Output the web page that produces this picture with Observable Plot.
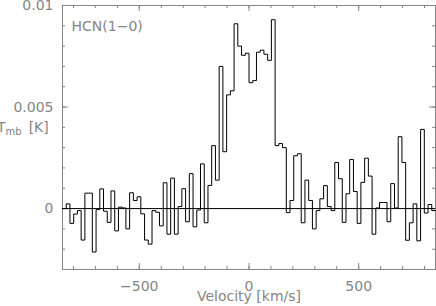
<!DOCTYPE html>
<html><head><meta charset="utf-8">
<script src="https://cdn.jsdelivr.net/npm/d3@7"></script>
<script src="https://cdn.jsdelivr.net/npm/@observablehq/plot@0.6"></script>
<style>
html,body{margin:0;padding:0;background:#fff;}
#chart svg{display:block;}
</style></head><body><div id="chart"></div>
<script>
// ---- data ----
const lineName = "HCN(1−0)";
const xLabel = "Velocity [km/s]";
const yLabelMain = "T", yLabelSub = "mb", yLabelUnit = "[K]";
const channelStart = -850;   // km/s, left edge of first channel
const channelWidth = 17;     // km/s per channel
const tmb = [
  0.00000, 0.00023, -0.00073, -0.00027, -0.00010, -0.00155, 0.00076, 0.00076, -0.00214, -0.00005,
  0.00097, -0.00013, -0.00068, 0.00087, -0.00110, 0.00007, 0.00003, -0.00100, 0.00078, 0.00040,
  0.00058, -0.00026, -0.00155, -0.00175, -0.00010, -0.00018, -0.00085, 0.00127, -0.00126, 0.00150,
  -0.00126, 0.00010, 0.00098, -0.00065, 0.00172, -0.00090, -0.00007, 0.00220, -0.00070, 0.00114,
  0.00310, 0.00140, 0.00700, 0.00280, 0.00560, 0.00580, 0.00910, 0.00800, 0.00755, 0.00765,
  0.00620, 0.00630, 0.00770, 0.00780, 0.00760, 0.00730, 0.00930, 0.00310, 0.00320, 0.00300,
  -0.00020, 0.00040, 0.00260, 0.00270, -0.00070, 0.00140, 0.00040, -0.00100, -0.00010, 0.00048,
  0.00113, 0.00010, -0.00010, 0.00227, 0.00147, -0.00068, 0.00073, 0.00242, 0.00084, -0.00073,
  0.00129, 0.00248, 0.00160, -0.00126, 0.00003, 0.00030, 0.00030, -0.00065, 0.00123, 0.00003,
  0.00354, 0.00227, -0.00156, -0.00070, 0.00023, -0.00159, 0.00390, -0.00022, 0.00020, -0.00010
];
const xMajorTicks = [-500, 0, 500];
const xMinorTicks = [-800, -700, -600, -500, -400, -300, -200, -100, 0, 100, 200, 300, 400, 500, 600, 700, 800];
const yMajorTicks = [0, 0.005, 0.01];
const yMinorTicks = [-0.003, -0.002, -0.001, 0, 0.001, 0.002, 0.003, 0.004, 0.005, 0.006, 0.007, 0.008, 0.009, 0.01];

// ---- build step table (left edge of each channel + closing edge) ----
const spectrum = tmb.map((t, i) => ({v: channelStart + channelWidth * i, t}));
spectrum.push({v: channelStart + channelWidth * tmb.length, t: tmb[tmb.length - 1]});

const W = 436, H = 306;
const mL = 62, mR = 1, mT = 5, mB = 37;
const innerW = W - mL - mR, innerH = H - mT - mB;
const grey = "#858585";
const font = "DejaVu Sans";
const fmtX = d => d < 0 ? "−" + Math.abs(d) : String(d);

const plot = Plot.plot({
  width: W, height: H,
  marginLeft: mL, marginRight: mR, marginTop: mT, marginBottom: mB,
  style: {fontFamily: font, fontSize: "14px", color: grey, background: "#fff"},
  x: {domain: [-850, 850], label: null},
  y: {domain: [-0.003, 0.01], label: null},
  marks: [
    // inward ticks: bottom & top
    Plot.tickX(xMinorTicks, {x: d => d, stroke: grey, insetTop: innerH - 3}),
    Plot.tickX(xMinorTicks, {x: d => d, stroke: grey, insetBottom: innerH - 3}),
    Plot.tickX(xMajorTicks, {x: d => d, stroke: grey, insetTop: innerH - 6}),
    Plot.tickX(xMajorTicks, {x: d => d, stroke: grey, insetBottom: innerH - 6}),
    // inward ticks: left & right
    Plot.tickY(yMinorTicks, {y: d => d, stroke: grey, insetRight: innerW - 3}),
    Plot.tickY(yMinorTicks, {y: d => d, stroke: grey, insetLeft: innerW - 3}),
    Plot.tickY(yMajorTicks, {y: d => d, stroke: grey, insetRight: innerW - 6}),
    Plot.tickY(yMajorTicks, {y: d => d, stroke: grey, insetLeft: innerW - 6}),
    Plot.axisX(xMajorTicks, {anchor: "bottom", label: null, tickSize: 0, tickPadding: 12, tickFormat: fmtX, fill: grey, fontSize: 14}),
    Plot.axisY(yMajorTicks, {anchor: "left", label: null, tickSize: 0, tickPadding: 9, tickFormat: d => String(d), fill: grey, fontSize: 14}),
    Plot.frame({stroke: grey}),
    Plot.ruleY([0], {stroke: "#000", strokeWidth: 1}),
    Plot.line(spectrum, {x: "v", y: "t", curve: "step-after", stroke: "#000", strokeWidth: 1}),
    Plot.text([lineName], {frameAnchor: "top-left", text: d => d, textAnchor: "start", lineAnchor: "top", dx: 9, dy: 16, fill: grey, fontSize: 14}),
    Plot.text([xLabel], {frameAnchor: "bottom", text: d => d, lineAnchor: "middle", dy: 27.5, fill: grey, fontSize: 14})
  ]
});

// y label with subscript
const svg = d3.select(plot);
const lab = svg.append("text")
  .attr("x", -3).attr("y", 132)
  .attr("text-anchor", "start")
  .attr("fill", grey).attr("font-family", font).attr("font-size", 14);
lab.append("tspan").text(yLabelMain);
lab.append("tspan").attr("font-size", 10).attr("dy", 3).text(yLabelSub);
lab.append("tspan").attr("dy", -3).attr("dx", 7).text(yLabelUnit);

document.getElementById("chart").appendChild(plot);
</script>
</body></html>
